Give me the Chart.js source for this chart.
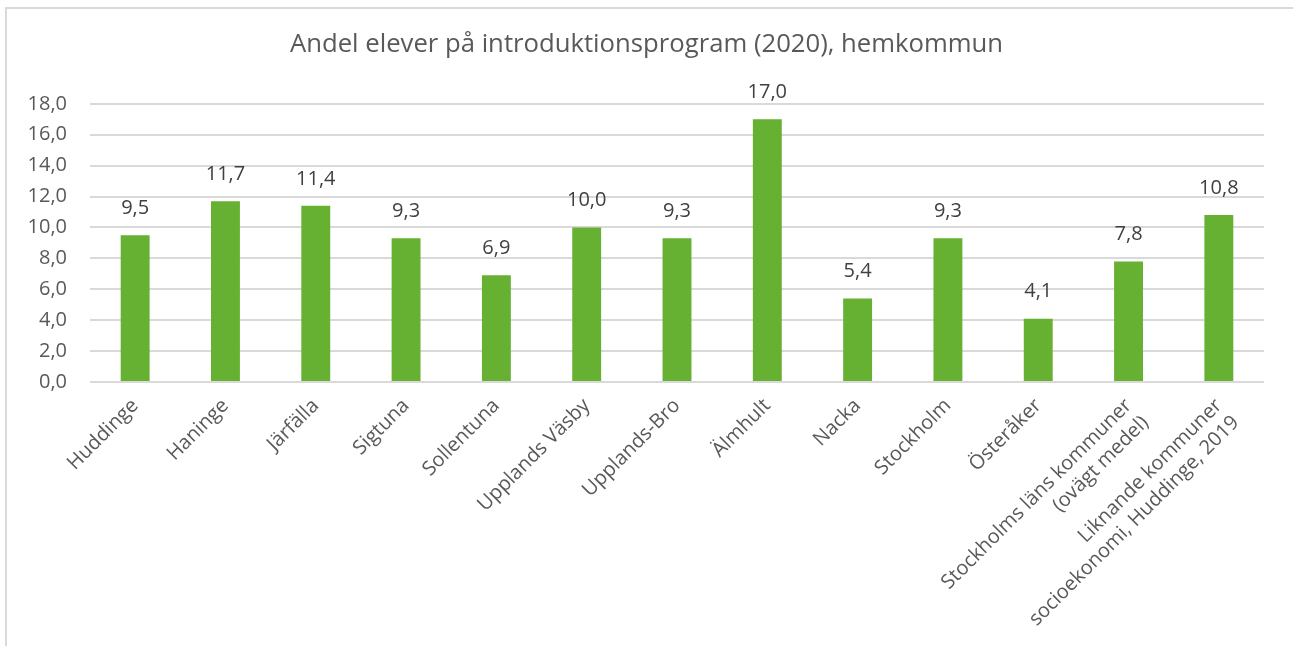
<!DOCTYPE html>
<html>
<head>
<meta charset="utf-8">
<script src="https://cdn.jsdelivr.net/npm/chart.js@4"></script>
<style>
  html, body { margin: 0; padding: 0; background: #fff; }
  #wrap { width: 1293px; height: 646px; }
</style>
</head>
<body>
<div id="wrap"><canvas id="chart"></canvas></div>
<script>
const categories = [
    'Huddinge', 'Haninge', 'Järfälla', 'Sigtuna', 'Sollentuna', 'Upplands Väsby',
    'Upplands-Bro', 'Älmhult', 'Nacka', 'Stockholm', 'Österåker',
    ['Stockholms läns kommuner', '(ovägt medel)'],
    ['Liknande kommuner', 'socioekonomi, Huddinge, 2019']
];
const values = [9.5, 11.7, 11.4, 9.3, 6.9, 10.0, 9.3, 17.0, 5.4, 9.3, 4.1, 7.8, 10.8];
const yTicks = [0, 2, 4, 6, 8, 10, 12, 14, 16, 18];

const FONT = "'Open Sans', sans-serif";
const fmt = v => v.toFixed(1).replace('.', ',');

// border of the chart box (left and top edge)
const frame = {
    id: 'frame',
    beforeDraw(chart) {
        const c = chart.ctx;
        c.save();
        c.fillStyle = '#d9d9d9';
        c.fillRect(5, 7, 2, chart.height - 7);
        c.fillRect(5, 7, chart.width - 5, 2);
        c.restore();
    }
};

// value labels above bars
const barLabels = {
    id: 'barLabels',
    afterDatasetsDraw(chart) {
        const c = chart.ctx;
        c.save();
        c.font = '20px ' + FONT;
        c.fillStyle = '#404040';
        c.textAlign = 'center';
        c.textBaseline = 'middle';
        chart.getDatasetMeta(0).data.forEach((bar, i) => {
            c.fillText(fmt(values[i]), bar.x, bar.y - 27);
        });
        c.restore();
    }
};

new Chart(document.getElementById('chart'), {
    type: 'bar',
    data: {
        labels: categories,
        datasets: [{
            data: values,
            backgroundColor: '#66b032',
            categoryPercentage: 1,
            barPercentage: 0.32
        }]
    },
    options: {
        responsive: true,
        maintainAspectRatio: false,
        animation: false,
        layout: { padding: 0 },
        plugins: {
            legend: { display: false },
            tooltip: { enabled: false },
            title: {
                display: true,
                text: 'Andel elever på introduktionsprogram (2020), hemkommun',
                color: '#595959',
                font: { family: FONT, size: 25.7, weight: 'normal' },
                padding: { top: 29, bottom: 44 }
            }
        },
        scales: {
            x: {
                grid: { display: false },
                border: { display: false },
                ticks: {
                    color: '#595959',
                    font: { family: FONT, size: 20 },
                    maxRotation: 45,
                    minRotation: 45,
                    autoSkip: false,
                    padding: 4
                },
                afterFit(s) { s.height = 264; }
            },
            y: {
                min: 0,
                max: 18,
                afterBuildTicks(s) { s.ticks = yTicks.map(v => ({ value: v })); },
                grid: { color: '#d9d9d9', lineWidth: 2, drawTicks: false },
                border: { display: false },
                ticks: {
                    color: '#595959',
                    font: { family: FONT, size: 20 },
                    padding: 23,
                    callback: v => fmt(v)
                },
                afterFit(s) { s.width = 90; }
            },
            // empty right margin, keeps the title centred on the whole box
            yRight: {
                position: 'right',
                min: 0,
                max: 18,
                grid: { display: false },
                border: { display: false },
                ticks: { display: false },
                afterFit(s) { s.width = 29; }
            }
        }
    },
    plugins: [frame, barLabels]
});
</script>
</body>
</html>
